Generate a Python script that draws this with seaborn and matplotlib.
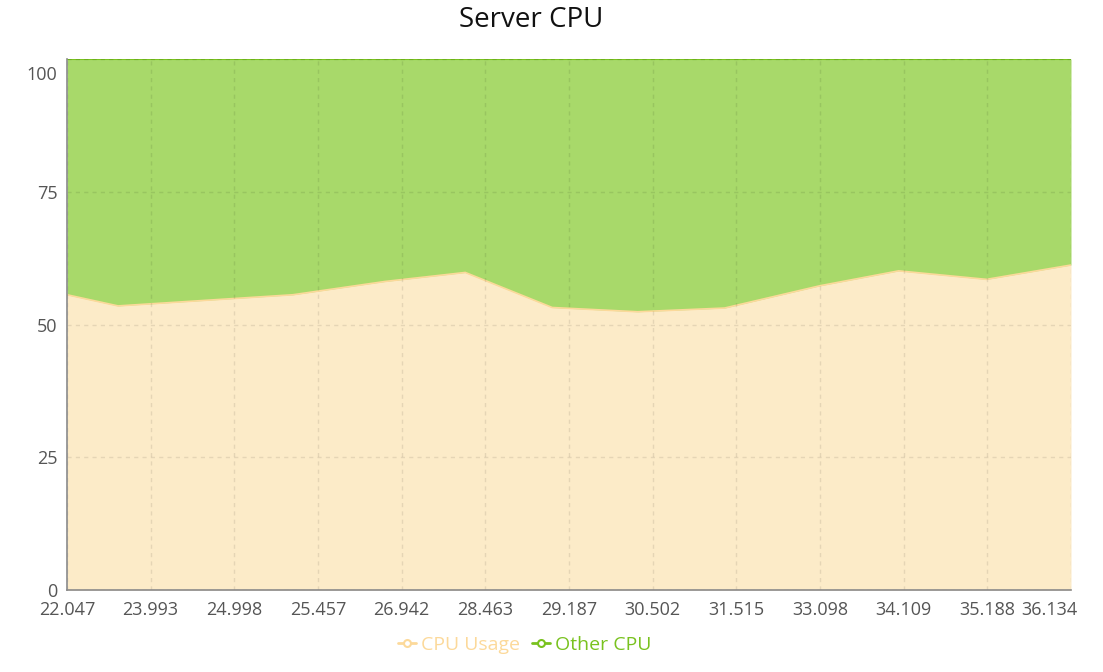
import seaborn as sns
import matplotlib
matplotlib.use("Agg")
import matplotlib.pyplot as plt
import matplotlib.transforms as mtransforms
from matplotlib.lines import Line2D
import pandas as pd

# sample positions (in tick units) and values
sample_pos = [0.0, 0.61, 2.70, 3.80, 4.76, 5.80, 6.82, 7.86, 9.00, 9.94, 10.99, 12.0]
cpu_usage = [55.6, 53.5, 55.6, 58.1, 59.8, 53.2, 52.4, 53.1, 57.3, 60.1, 58.5, 61.2]
other_cpu = [44.4, 46.5, 44.4, 41.9, 40.2, 46.8, 47.6, 46.9, 42.7, 39.9, 41.5, 38.8]
x_labels = ['22.047', '23.993', '24.998', '25.457', '26.942', '28.463', '29.187',
            '30.502', '31.515', '33.098', '34.109', '35.188', '36.134']
y_ticks = [0, 25, 50, 75, 100]

sns.set_style("white")
plt.rcParams['font.family'] = ['Open Sans', 'DejaVu Sans']

df = pd.DataFrame({'pos': sample_pos, 'usage': cpu_usage, 'other': other_cpu})
df['total'] = df['usage'] + df['other']

fig = plt.figure(figsize=(11.03, 6.72), dpi=100)
ax = fig.add_axes([67 / 1103, 1 - 590 / 672, (1071 - 67) / 1103, (590 - 59) / 672])

usage_fill = '#fcebc8'
usage_line = '#fcd99a'
other_fill = '#a8d96a'
other_line = '#79c21f'

ax.fill_between(df['pos'], 0, df['usage'], color=usage_fill, lw=0, zorder=1)
ax.fill_between(df['pos'], df['usage'], df['total'], color=other_fill, lw=0, zorder=1)
sns.lineplot(data=df, x='pos', y='usage', color=usage_line, lw=1.2, ax=ax, zorder=2)
sns.lineplot(data=df, x='pos', y='total', color=other_line, lw=1.5, ax=ax, zorder=2)

ax.set_xlim(0, len(x_labels) - 1)
ax.set_ylim(0, 100)
ax.set_xticks(range(len(x_labels)))
ax.set_xticklabels(x_labels)
ax.set_yticks(y_ticks)
ax.set_xlabel('')
ax.set_ylabel('')

ax.grid(True, ls=(0, (3, 3)), color='#000000', alpha=0.09, lw=1)
ax.set_axisbelow(False)
for line in ax.get_xgridlines() + ax.get_ygridlines():
    line.set_zorder(3)

for s in ['top', 'right']:
    ax.spines[s].set_visible(False)
for s in ['left', 'bottom']:
    ax.spines[s].set_color('#8a8a8a')
    ax.spines[s].set_linewidth(1.2)
    ax.spines[s].set_zorder(4)

ax.tick_params(axis='both', direction='out', length=5, width=1, color='#8a8a8a',
               labelcolor='#555555', labelsize=13, pad=2)
ax.tick_params(axis='x', pad=3)

# keep the end labels inside the figure like the original
last = ax.get_xticklabels()[-1]
last.set_ha('right')
last.set_transform(last.get_transform() +
                   mtransforms.ScaledTranslation(7 / 100, 0, fig.dpi_scale_trans))
top = ax.get_yticklabels()[-1]
top.set_transform(top.get_transform() +
                  mtransforms.ScaledTranslation(0, -14 / 100, fig.dpi_scale_trans))

fig.suptitle('Server CPU', x=531 / 1103, y=1 - 6 / 672, va='top',
             fontsize=20, color='#111111')

handles = [Line2D([0], [0], color=usage_line, lw=2, marker='o', ms=5,
                  mfc='white', mew=1.5),
           Line2D([0], [0], color=other_line, lw=2, marker='o', ms=5,
                  mfc='white', mew=1.5)]
leg = fig.legend(handles, ['CPU Usage', 'Other CPU'], loc='center',
                 bbox_to_anchor=(525 / 1103, 1 - 645 / 672), ncol=2,
                 frameon=False, fontsize=14, handlelength=0.9, handletextpad=0.3,
                 columnspacing=0.6)
for text, c in zip(leg.get_texts(), [usage_line, other_line]):
    text.set_color(c)

fig.savefig('out.png', dpi=100)
